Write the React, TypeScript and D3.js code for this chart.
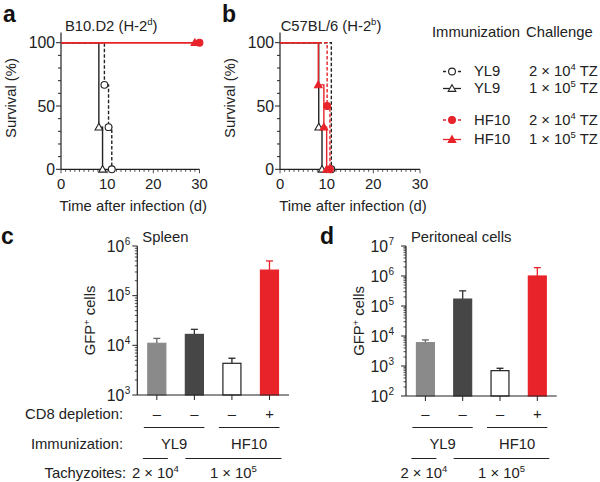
import React from 'react';
import * as d3 from 'd3';

// ---------- Data ----------
type Pt = { t: number; s: number };
// Panel a: B10.D2 (H-2d)
const aYL9_2e4: Pt[] = [{ t: 0, s: 100 }, { t: 9.4, s: 66.7 }, { t: 10.3, s: 33.3 }, { t: 11, s: 0 }];
const aYL9_1e5: Pt[] = [{ t: 0, s: 100 }, { t: 8.2, s: 33.3 }, { t: 9, s: 0 }];
const aHF10_2e4: Pt[] = [{ t: 0, s: 100 }, { t: 30, s: 100 }];
const aHF10_1e5: Pt[] = [{ t: 0, s: 100 }, { t: 29, s: 100 }];
// Panel b: C57BL/6 (H-2b)
const bYL9_2e4: Pt[] = [{ t: 0, s: 100 }, { t: 11, s: 0 }];
const bYL9_1e5: Pt[] = [{ t: 0, s: 100 }, { t: 8.3, s: 33.3 }, { t: 9, s: 0 }];
const bHF10_2e4: Pt[] = [{ t: 0, s: 100 }, { t: 10.1, s: 50 }, { t: 10.7, s: 0 }];
const bHF10_1e5: Pt[] = [{ t: 0, s: 100 }, { t: 8.2, s: 66.7 }, { t: 9.4, s: 33.3 }, { t: 10, s: 0 }];

const survXTicks = [0, 10, 20, 30];
const survYTicks = [0, 50, 100];

const legendNames = ['YL9', 'YL9', 'HF10', 'HF10'];
const legendChallenge = [['2', '4'], ['1', '5'], ['2', '4'], ['1', '5']];

// Panel c: Spleen
const barGroups = ['YL9 2e4', 'YL9 1e5', 'HF10 1e5', 'HF10 1e5 CD8'];
const spleenMean = [11000, 16600, 4350, 327000];
const spleenErr = [13800, 21000, 5500, 500000];
// Panel d: Peritoneal cells
const peritMean = [6000, 170000, 700, 1000000];
const peritErr = [7400, 320000, 840, 1900000];
const cd8Signs = ['–', '–', '–', '+'];

const FONT = '"Liberation Sans", Arial, Helvetica, sans-serif';
const FS = 14.8;
const INK = '#222';
const RED = '#e8232a';

type Series = { pts: Pt[]; color: string; dashed: boolean; marker: 'circle' | 'triangle' };

function Marker({ x, y, kind, color }: { x: number; y: number; kind: string; color: string }) {
  const filled = color !== INK;
  if (kind === 'circle') {
    return <circle cx={x} cy={y} r={3.4} fill={filled ? color : '#fff'} stroke={color} strokeWidth={1.1} />;
  }
  const h = 3.8;
  return (
    <path
      d={`M${x},${y - h}L${x + h},${y + h * 0.75}L${x - h},${y + h * 0.75}Z`}
      fill={filled ? color : '#fff'}
      stroke={color}
      strokeWidth={1.1}
    />
  );
}

function SurvivalPanel({ left, right, letter, title, sup, series }: any) {
  const x = d3.scaleLinear().domain([0, 30]).range([left, right]);
  const y = d3.scaleLinear().domain([0, 100]).range([169.3, 42.7]);
  const line = d3.line<Pt>().x((d) => x(d.t)).y((d) => y(d.s)).curve(d3.curveStepAfter);
  const minorX = d3.range(0, 31, 1);
  const minorY = d3.range(0, 101, 10);
  return (
    <g>
      <text x={left - 58} y={22} fontSize={23} fontWeight="bold" fontFamily={FONT} fill="#111">{letter}</text>
      <text x={(left + right) / 2 - 19} y={31} fontSize={FS} fontFamily={FONT} fill={INK} textAnchor="middle">
        {title}
        <tspan fontSize={9.5} dy={-6}>{sup}</tspan>
        <tspan dy={6}>)</tspan>
      </text>
      {/* axes */}
      <line x1={left} x2={left} y1={y(108)} y2={y(0)} stroke={INK} strokeWidth={1.2} />
      <line x1={left} x2={right} y1={y(0)} y2={y(0)} stroke={INK} strokeWidth={1.2} />
      {minorY.map((v) => (
        <line key={'my' + v} x1={left - (v % 50 === 0 ? 5 : 3)} x2={left} y1={y(v)} y2={y(v)} stroke={INK} strokeWidth={1} />
      ))}
      {minorX.map((v) => (
        <line key={'mx' + v} x1={x(v)} x2={x(v)} y1={y(0)} y2={y(0) + (v % 10 === 0 ? 4 : 2.5)} stroke={INK} strokeWidth={0.8} />
      ))}
      {survYTicks.map((v) => (
        <text key={'ty' + v} x={left - 6} y={y(v) + 5.5} fontSize={FS + 1} fontFamily={FONT} fill={INK} textAnchor="end">{v}</text>
      ))}
      {survXTicks.map((v) => (
        <text key={'tx' + v} x={x(v)} y={189} fontSize={FS} fontFamily={FONT} fill={INK} textAnchor="middle">{v}</text>
      ))}
      <text x={(left + right) / 2 + 3} y={211} fontSize={FS} fontFamily={FONT} fill={INK} textAnchor="middle">Time after infection (d)</text>
      <text transform={`translate(${left - 45},98) rotate(-90)`} fontSize={FS} fontFamily={FONT} fill={INK} textAnchor="middle">Survival (%)</text>
      {series.map((s: Series, i: number) => (
        <g key={i}>
          <path d={line(s.pts) || ''} fill="none" stroke={s.color} strokeWidth={1.4} strokeDasharray={s.dashed ? '3.5,2' : undefined} />
          {s.pts.slice(1).map((p, j) => (
            <Marker key={j} x={x(p.t)} y={y(p.s)} kind={s.marker} color={s.color} />
          ))}
        </g>
      ))}
    </g>
  );
}

function Legend() {
  const rowsY = [76, 93, 124.5, 144];
  const kinds = ['circle', 'triangle', 'circle', 'triangle'];
  const cols = [INK, INK, RED, RED];
  return (
    <g fontFamily={FONT} fontSize={FS} fill={INK}>
      <text x={432} y={37}>Immunization</text>
      <text x={526} y={37}>Challenge</text>
      {rowsY.map((ry, i) => (
        <g key={i}>
          <line x1={443} x2={461} y1={ry - 4.5} y2={ry - 4.5} stroke={cols[i]} strokeWidth={1.3} strokeDasharray={i % 2 === 0 ? '3,2' : undefined} />
          <Marker x={452} y={ry - 4.5} kind={kinds[i]} color={cols[i]} />
          <text x={474} y={ry}>{legendNames[i]}</text>
          <text x={529} y={ry}>
            {legendChallenge[i][0]} × 10<tspan fontSize={9.5} dy={-6}>{legendChallenge[i][1]}</tspan>
            <tspan dy={6}> TZ</tspan>
          </text>
        </g>
      ))}
    </g>
  );
}

function BarPanel({ axisX, axisRight, dom, yTop, yBot, means, errs, letter, letterX, title, showRowLabels, labelX, tickOff }: any) {
  const y = d3.scaleLog().domain(dom).range([yBot, yTop]);
  const xb = d3.scaleBand().domain(barGroups).range([axisX, axisRight]).paddingInner(0.52).paddingOuter(0.28);
  const bw = xb.bandwidth();
  const cx = (i: number) => (xb(barGroups[i]) as number) + bw / 2;
  const fills = ['#8a8a8a', '#464646', '#ffffff', RED];
  const strokes = ['#8a8a8a', '#464646', INK, RED];
  const errCol = ['#666', '#333', INK, RED];
  const lo = Math.log10(dom[0]);
  const hi = Math.log10(dom[1]);
  const majors = d3.range(lo, hi + 1).map((e) => Math.pow(10, e));
  const minors: number[] = [];
  for (let e = lo; e < hi; e++) for (let k = 2; k <= 9; k++) minors.push(k * Math.pow(10, e));
  const groupLines = [
    { a: 0, b: 1, label: 'YL9' },
    { a: 2, b: 3, label: 'HF10' },
  ];
  const tachy = [
    { a: 0, b: 0, m: '2', e: '4' },
    { a: 1, b: 3, m: '1', e: '5' },
  ];
  return (
    <g fontFamily={FONT} fill={INK}>
      <text x={letterX} y={244} fontSize={23} fontWeight="bold" fill="#111">{letter}</text>
      <text x={axisX + 5} y={242} fontSize={FS}>{title}</text>
      <text transform={`translate(${axisX - 42},${(yTop + yBot) / 2}) rotate(-90)`} fontSize={FS} textAnchor="middle">
        GFP<tspan fontSize={9.5} dy={-5}>+</tspan><tspan dy={5}> cells</tspan>
      </text>
      {means.map((m: number, i: number) => (
        <g key={i}>
          <line x1={cx(i)} x2={cx(i)} y1={y(m)} y2={y(errs[i])} stroke={errCol[i]} strokeWidth={1.3} />
          <line x1={cx(i) - 3.5} x2={cx(i) + 3.5} y1={y(errs[i])} y2={y(errs[i])} stroke={errCol[i]} strokeWidth={1.3} />
          <rect x={xb(barGroups[i])} y={y(m)} width={bw} height={yBot - y(m)} fill={fills[i]} stroke={strokes[i]} strokeWidth={1.2} />
          <line x1={cx(i)} x2={cx(i)} y1={yBot} y2={yBot + 5} stroke={INK} strokeWidth={1} />
          <text x={cx(i)} y={419} fontSize={FS} textAnchor="middle">{cd8Signs[i]}</text>
        </g>
      ))}
      <line x1={axisX} x2={axisX} y1={yTop} y2={yBot} stroke={INK} strokeWidth={1.2} />
      <line x1={axisX} x2={axisRight} y1={yBot} y2={yBot} stroke={INK} strokeWidth={1.2} />
      {minors.map((v, i) => (
        <line key={'mn' + i} x1={axisX - 2.5} x2={axisX} y1={y(v)} y2={y(v)} stroke={INK} strokeWidth={0.8} />
      ))}
      {majors.map((v, i) => (
        <g key={'mj' + i}>
          <line x1={axisX - 5} x2={axisX} y1={y(v)} y2={y(v)} stroke={INK} strokeWidth={1} />
          <text x={axisX - tickOff} y={y(v) + 5.5} fontSize={FS + 1} textAnchor="end">10</text>
          <text x={axisX - tickOff + 0.5} y={y(v) - 1} fontSize={10}>{Math.round(Math.log10(v))}</text>
        </g>
      ))}
      {groupLines.map((g, i) => (
        <g key={'g' + i}>
          <line x1={cx(g.a) - 13} x2={cx(g.b) + 10} y1={427.5} y2={427.5} stroke={INK} strokeWidth={1} />
          <text x={(cx(g.a) - 13 + cx(g.b) + 10) / 2} y={449} fontSize={FS} textAnchor="middle">{g.label}</text>
        </g>
      ))}
      {tachy.map((g, i) => {
        const x1 = cx(g.a) - (i === 0 ? 14 : 9);
        const x2 = cx(g.b) + (i === 0 ? 11 : 12);
        return (
          <g key={'t' + i}>
            <line x1={x1} x2={x2} y1={458.5} y2={458.5} stroke={INK} strokeWidth={1} />
            <text x={(x1 + x2) / 2} y={478} fontSize={FS} textAnchor="middle">
              {g.m} × 10<tspan fontSize={9.5} dy={-6}>{g.e}</tspan>
            </text>
          </g>
        );
      })}
      {showRowLabels && (
        <g fontSize={FS} textAnchor="end">
          <text x={labelX} y={419}>CD8 depletion:</text>
          <text x={labelX} y={449}>Immunization:</text>
          <text x={labelX + 3} y={478}>Tachyzoites:</text>
        </g>
      )}
    </g>
  );
}

export default function App() {
  const aSeries: Series[] = [
    { pts: aYL9_2e4, color: INK, dashed: true, marker: 'circle' },
    { pts: aYL9_1e5, color: INK, dashed: false, marker: 'triangle' },
    { pts: aHF10_2e4, color: RED, dashed: false, marker: 'circle' },
    { pts: aHF10_1e5, color: RED, dashed: false, marker: 'triangle' },
  ];
  const bSeries: Series[] = [
    { pts: bYL9_2e4, color: INK, dashed: true, marker: 'circle' },
    { pts: bYL9_1e5, color: INK, dashed: false, marker: 'triangle' },
    { pts: bHF10_2e4, color: RED, dashed: true, marker: 'circle' },
    { pts: bHF10_1e5, color: RED, dashed: false, marker: 'triangle' },
  ];
  return (
    <svg width={600} height={482} style={{ position: 'absolute', left: 0, top: 0, background: '#fff' }}>
      <rect width={600} height={482} fill="#fff" />
      <SurvivalPanel left={61} right={199.5} letter="a" title="B10.D2 (H-2" sup="d" series={aSeries} />
      <SurvivalPanel left={280} right={420} letter="b" title="C57BL/6 (H-2" sup="b" series={bSeries} />
      <Legend />
      <BarPanel axisX={137.3} axisRight={289} dom={[1e3, 1e6]} yTop={246} yBot={395} means={spleenMean} errs={spleenErr}
        letter="c" letterX={1} title="Spleen" showRowLabels labelX={123} tickOff={13} />
      <BarPanel axisX={406} axisRight={556.7} dom={[1e2, 1e7]} yTop={246} yBot={396} means={peritMean} errs={peritErr}
        letter="d" letterX={320} title="Peritoneal cells" showRowLabels={false} labelX={0} tickOff={18} />
    </svg>
  );
}
